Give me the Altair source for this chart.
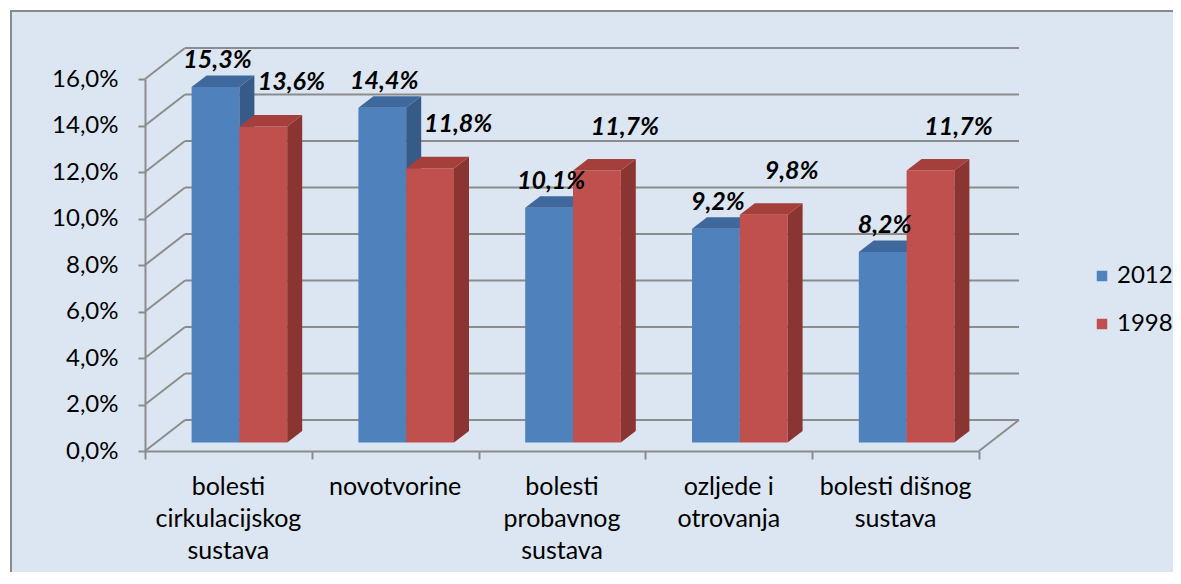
import altair as alt
import pandas as pd

# ---------------- data ----------------
categories = [
    "bolesti\ncirkulacijskog\nsustava",
    "novotvorine",
    "bolesti\nprobavnog\nsustava",
    "ozljede i\notrovanja",
    "bolesti dišnog\nsustava",
]
series = ["2012", "1998"]
values_2012 = [15.3, 14.4, 10.1, 9.2, 8.2]
values_1998 = [13.6, 11.8, 11.7, 9.8, 11.7]
y_ticks = [0, 2, 4, 6, 8, 10, 12, 14, 16]

# ---------------- geometry / style ----------------
W, H = 834, 372
N = len(categories)
YMAX = 16
UX = W / N          # px per category unit
UY = H / YMAX       # px per percent

WDX, WDY = 40 / UX, 31 / UY        # back wall offset
PDX, PDY = 11 / UX, 8.4 / UY       # plane of the bars
DDX, DDY = 15 / UX, 11.5 / UY      # bar depth
BW = 47.8 / UX                     # bar width

FRONT = {"2012": "#4F81BD", "1998": "#C0504D"}
SIDE = {"2012": "#375B88", "1998": "#8A3532"}
TOP = {"2012": "#3F689C", "1998": "#A53F3C"}
GRID = "#8C8C8C"
BG = "#DCE6F2"
FONT = "Lato"

xs = alt.Scale(domain=[0, N], nice=False, zero=False)
ys = alt.Scale(domain=[0, YMAX], nice=False, zero=False)

y_axis = alt.Axis(
    values=y_ticks,
    labelExpr="replace(format(datum.value, '.1f'), '.', ',') + '%'",
    title=None,
    grid=False,
    domainColor=GRID,
    domainWidth=2,
    tickColor=GRID,
    tickWidth=2,
    tickSize=7,
    labelPadding=20,
    labelFont=FONT,
    labelFontSize=24,
    labelColor="#000000",
    zindex=1,
)
x_axis = alt.Axis(
    values=list(range(N + 1)),
    labels=False,
    title=None,
    grid=False,
    domainColor=GRID,
    domainWidth=2,
    tickColor=GRID,
    tickWidth=2,
    tickSize=8,
    zindex=1,
)


def X(field):
    return alt.X(field, scale=xs, axis=x_axis)


def Y(field):
    return alt.Y(field, scale=ys, axis=y_axis)


def series_tables(j, name, vals):
    front, side, top = [], [], []
    for i, v in enumerate(vals):
        x0 = i + 0.5 + (j - 1) * BW + PDX
        x1 = x0 + BW
        b, t = PDY, v + PDY
        key = f"{name}-{i}"
        front.append(dict(series=name, value=v, x0=x0, x1=x1, xc=(x0 + x1) / 2, b=b, t=t))
        side += [
            dict(k=key, x=x1, lo=b, hi=t),
            dict(k=key, x=x1 + DDX, lo=b + DDY, hi=t + DDY),
        ]
        top += [
            dict(k=key, y=t, l=x0, r=x1),
            dict(k=key, y=t + DDY, l=x0 + DDX, r=x1 + DDX),
        ]
    return pd.DataFrame(front), pd.DataFrame(side), pd.DataFrame(top)


# ---------------- outer frame (white margin + grey border on left/top) ----------------
one = pd.DataFrame({"a": [0]})
white_left = alt.Chart(one).mark_rect(fill="#FFFFFF").encode(
    x=alt.value(-140), x2=alt.value(-135), y=alt.value(-80), y2=alt.value(700)
)
white_top = alt.Chart(one).mark_rect(fill="#FFFFFF").encode(
    x=alt.value(-140), x2=alt.value(1200), y=alt.value(-80), y2=alt.value(-69)
)
border_left = alt.Chart(one).mark_rule(color="#8A8A8A", strokeWidth=2).encode(
    x=alt.value(-134), y=alt.value(-69), y2=alt.value(700)
)
border_top = alt.Chart(one).mark_rule(color="#8A8A8A", strokeWidth=2).encode(
    x=alt.value(-135), x2=alt.value(1200), y=alt.value(-68)
)

# ---------------- walls / gridlines ----------------
back_rows = [dict(x=WDX, x2=N + WDX, y=v + WDY, y2=v + WDY) for v in y_ticks]
diag_rows = [dict(x=0, x2=WDX, y=v, y2=v + WDY) for v in y_ticks]
edge_rows = [dict(x=N, x2=N + WDX, y=0, y2=WDY)]
grid_df = pd.DataFrame(back_rows + diag_rows + edge_rows)

grid = alt.Chart(grid_df).mark_rule(color=GRID, strokeWidth=2).encode(
    x=X("x:Q"), x2="x2:Q", y=Y("y:Q"), y2="y2:Q",
)

layers = [white_left, white_top, border_left, border_top, grid]
label_layers = []

label_shift = {"2012": (2, -19), "1998": (28, -36)}

for j, (name, vals) in enumerate(zip(series, [values_2012, values_1998])):
    fdf, sdf, tdf = series_tables(j, name, vals)
    front = alt.Chart(fdf).mark_bar().encode(
        x=X("x0:Q"),
        x2="x1:Q",
        y=Y("t:Q"),
        y2="b:Q",
        color=alt.Color(
            "series:N",
            scale=alt.Scale(domain=series, range=[FRONT[s] for s in series]),
            legend=alt.Legend(
                title=None,
                orient="none",
                legendX=945,
                legendY=185,
                symbolType="square",
                symbolSize=110,
                symbolStrokeWidth=0,
                labelFont=FONT,
                labelFontSize=24,
                labelColor="#000000",
                labelOffset=3,
                rowPadding=24,
                zindex=1,
            ),
        ),
    )
    side = alt.Chart(sdf).mark_area(orient="vertical", color=SIDE[name]).encode(
        x=X("x:Q"), y=Y("hi:Q"), y2="lo:Q", detail="k:N",
    )
    top = alt.Chart(tdf).mark_area(orient="horizontal", color=TOP[name]).encode(
        y=Y("y:Q"), x=X("l:Q"), x2="r:Q", detail="k:N",
    )
    dx, dy = label_shift[name]
    labels = alt.Chart(fdf).transform_calculate(
        txt="replace(format(datum.value, '.1f'), '.', ',') + '%'"
    ).mark_text(
        font=FONT, fontSize=25, fontWeight="bold", fontStyle="italic",
        color="#000000", align="center", baseline="alphabetic", dx=dx, dy=dy,
    ).encode(
        x=X("xc:Q"), y=Y("t:Q"), text="txt:N",
    )
    layers += [front, side, top]
    label_layers.append(labels)

cat_df = pd.DataFrame({"cat": categories, "pos": [i + 0.5 for i in range(N)]})
cat_text = alt.Chart(cat_df).mark_text(
    font=FONT, fontSize=25, color="#000000", align="center",
    baseline="alphabetic", lineBreak="\n", lineHeight=32, dy=44,
).encode(
    x=X("pos:Q"),
    y=alt.Y(datum=0, scale=ys, axis=y_axis),
    text="cat:N",
)
layers += label_layers + [cat_text]

chart = alt.layer(*layers).properties(
    width=W,
    height=H,
    autosize=alt.AutoSizeParams(type="none"),
    padding={"left": 137, "top": 71, "right": 194, "bottom": 121},
    background=BG,
).configure_view(stroke=None)

chart.save("out.html", embed_options={"renderer": "svg", "actions": False})
